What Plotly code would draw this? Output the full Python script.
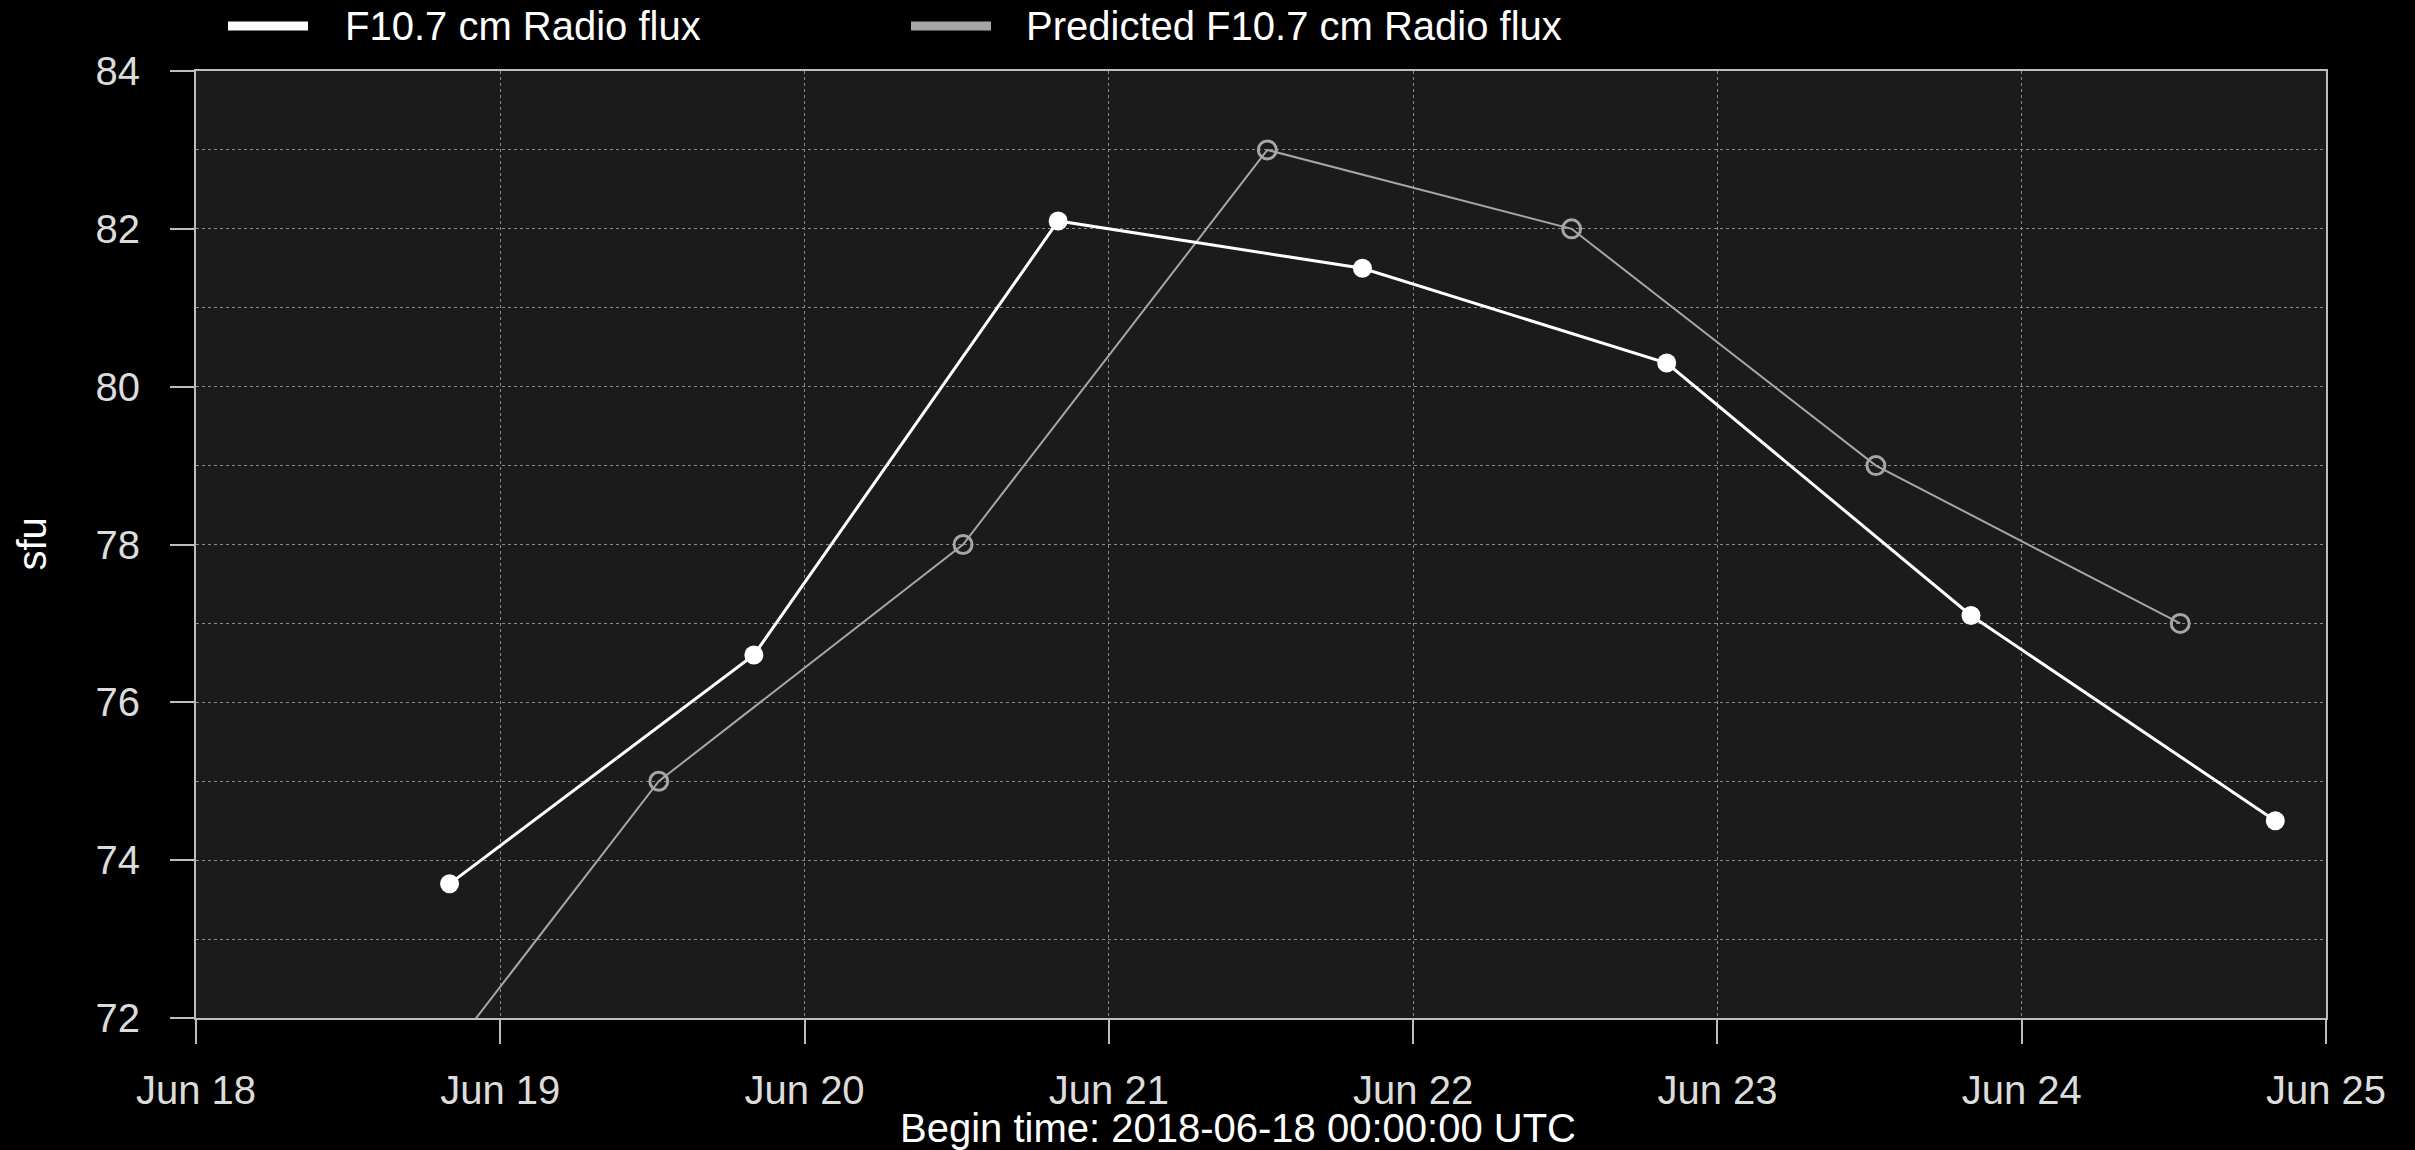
import plotly.graph_objects as go

# Data
obs_times = ["2018-06-18 20:00", "2018-06-19 20:00", "2018-06-20 20:00", "2018-06-21 20:00",
             "2018-06-22 20:00", "2018-06-23 20:00", "2018-06-24 20:00"]
obs_values = [73.7, 76.6, 82.1, 81.5, 80.3, 77.1, 74.5]

pred_times = ["2018-06-18 12:30", "2018-06-19 12:30", "2018-06-20 12:30", "2018-06-21 12:30",
              "2018-06-22 12:30", "2018-06-23 12:30", "2018-06-24 12:30"]
pred_values = [70, 75, 78, 83, 82, 79, 77]

x_ticks = ["2018-06-18", "2018-06-19", "2018-06-20", "2018-06-21",
           "2018-06-22", "2018-06-23", "2018-06-24", "2018-06-25"]
y_ticks = [72, 74, 76, 78, 80, 82, 84]

series_names = ["F10.7 cm Radio flux", "Predicted F10.7 cm Radio flux"]
subtitle = "Begin time: 2018-06-18 00:00:00 UTC"
y_title = "sfu"

W, H = 2415, 1150
L, R, T, B = 196, 89, 71, 132
FONT = "Liberation Sans, Arial, Helvetica, sans-serif"
FS = 40
OBS_C = "#ffffff"
PRED_C = "#a6a6a6"
GRID_C = "#8a8a8a"
AXIS_C = "#bdbdbd"
TICK_C = "#dcdcdc"

fig = go.Figure()
fig.add_trace(go.Scatter(
    x=pred_times, y=pred_values, mode="lines+markers", name=series_names[1],
    line=dict(color=PRED_C, width=2),
    marker=dict(symbol="circle-open", size=18, color=PRED_C, line=dict(width=3, color=PRED_C)),
    showlegend=False, cliponaxis=True,
))
fig.add_trace(go.Scatter(
    x=obs_times, y=obs_values, mode="lines+markers", name=series_names[0],
    line=dict(color=OBS_C, width=3),
    marker=dict(symbol="circle", size=19, color=OBS_C),
    showlegend=False, cliponaxis=True,
))

fig.update_layout(
    width=W, height=H, autosize=False,
    margin=dict(l=L, r=R, t=T, b=B, pad=0),
    paper_bgcolor="#000000", plot_bgcolor="#1b1b1b",
    font=dict(family=FONT, size=FS, color=TICK_C),
    showlegend=False,
)
fig.update_xaxes(
    type="date", range=[x_ticks[0], x_ticks[-1]],
    tickmode="array", tickvals=x_ticks, tickformat="%b %d",
    ticks="outside", ticklen=24, tickwidth=2, tickcolor=AXIS_C,
    ticklabelstandoff=12,
    showgrid=True, gridcolor=GRID_C, gridwidth=1, griddash="dot",
    showline=True, linecolor=AXIS_C, linewidth=2, mirror=True,
    zeroline=False, tickfont=dict(size=FS, color=TICK_C),
)
fig.update_yaxes(
    range=[y_ticks[0], y_ticks[-1]],
    tickmode="array", tickvals=y_ticks,
    ticks="outside", ticklen=24, tickwidth=2, tickcolor=AXIS_C,
    ticklabelstandoff=22,
    showgrid=True, gridcolor=GRID_C, gridwidth=1, griddash="dot",
    minor=dict(dtick=1, showgrid=True, gridcolor=GRID_C, gridwidth=1, griddash="dot", ticks=""),
    showline=True, linecolor=AXIS_C, linewidth=2, mirror=True,
    zeroline=False, tickfont=dict(size=FS, color=TICK_C),
)

pw = W - L - R
ph = H - T - B

def px_x(p):
    return (p - L) / pw

def px_y(p):
    return 1 - (p - T) / ph

# Manual legend (line swatches + labels)
legend_items = [(228, 308, 343, OBS_C, series_names[0]), (911, 991, 1024, PRED_C, series_names[1])]
for x0, x1, xt, col, name in legend_items:
    fig.add_shape(type="line", xref="paper", yref="paper",
                  x0=px_x(x0), x1=px_x(x1), y0=px_y(26), y1=px_y(26),
                  line=dict(color=col, width=9))
    fig.add_annotation(xref="paper", yref="paper", x=px_x(xt), y=px_y(26),
                       xanchor="left", yanchor="middle", showarrow=False,
                       text=name, font=dict(size=FS, color="#ffffff", family=FONT))

fig.add_annotation(xref="paper", yref="paper", x=px_x(1238), y=px_y(1128),
                   xanchor="center", yanchor="middle", showarrow=False,
                   text=subtitle, font=dict(size=FS, color="#ffffff", family=FONT))
fig.add_annotation(xref="paper", yref="paper", x=px_x(31), y=0.5,
                   xanchor="center", yanchor="middle", showarrow=False, textangle=-90,
                   text=y_title, font=dict(size=FS, color="#ffffff", family=FONT))

fig.write_html(
    "out.html",
    config={"displayModeBar": False},
    post_script="document.body.style.margin='0';document.body.style.padding='0';"
                "document.body.style.background='#000';document.body.style.overflow='hidden';",
)
